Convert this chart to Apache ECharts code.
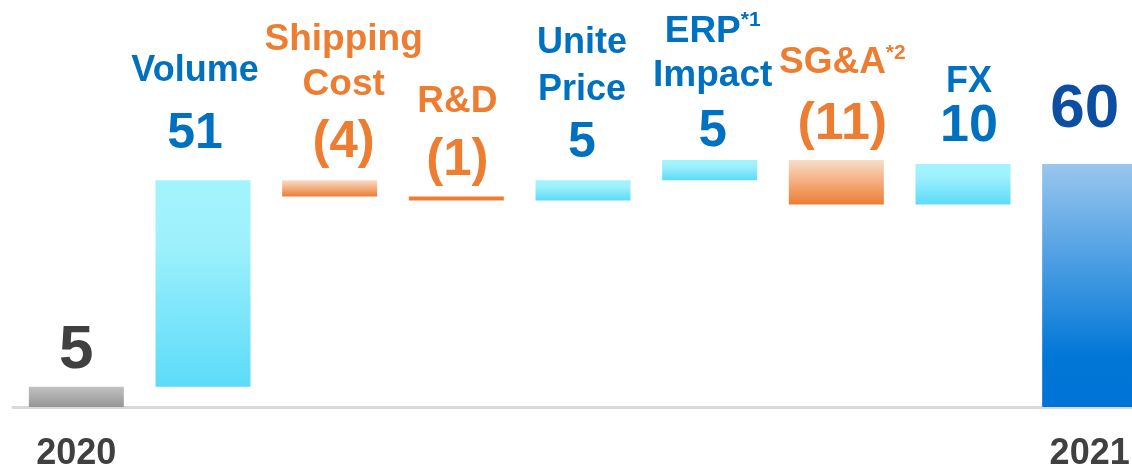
<!DOCTYPE html>
<html>
<head>
<meta charset="utf-8">
<script src="https://cdn.jsdelivr.net/npm/echarts@6/dist/echarts.min.js"></script>
<style>
  html, body { margin: 0; padding: 0; background: #fff; }
  #chart { width: 1132px; height: 469px; }
</style>
</head>
<body>
<div id="chart"></div>
<script>
  // 数据
  var categories = ['2020', 'Volume', 'Shipping Cost', 'R&D', 'Unite Price', 'ERP Impact', 'SG&A', 'FX', '2021'];
  var axisLabels = ['2020', '', '', '', '', '', '', '', '2021'];
  var baseValues = [0, 5, 52, 51, 51, 56, 50, 50, 0];
  var changeValues = [5, 51, 4, 1, 5, 5, 11, 10, 60];
  var valueTexts = ['5', '51', '(4)', '(1)', '5', '5', '(11)', '10', '60'];
  var nameTexts = ['', '{n|Volume}', '{n|Shipping}\n{n|Cost}', '{n|R&D}', '{n|Unite}\n{n|Price}',
    '{n|ERP}{s|*1}\n{n|Impact}', '{n|SG&A}{s|*2}', '{n|FX}', ''];
  var kinds = ['start', 'up', 'down', 'down', 'up', 'up', 'down', 'up', 'end'];

  var BLUE = '#0070C0', ORANGE = '#ED7D31';

  // 每个柱子的标签样式: 名称行高 a, 数值行高 b, 距离 d, 水平偏移 dx, 字号
  var labelStyle = [
    {a: 0, b: 62, d: 5, dx: 0, nf: 33, vf: 62, c: '#404040'},
    {a: 70, b: 56, d: 18, dx: -8, nf: 36, vf: 50, c: BLUE},
    {a: 45, b: 71, d: 2, dx: 14, nf: 37, vf: 51, c: ORANGE},
    {a: 63, b: 56, d: 7, dx: 1, nf: 37, vf: 51, c: ORANGE},
    {a: 47, b: 61, d: 6, dx: -1, nf: 36, vf: 50, c: BLUE},
    {a: 44, b: 67, d: -5, dx: 3, nf: 37, vf: 51, c: BLUE},
    {a: 40, b: 83, d: -6, dx: 6, nf: 37, vf: 52, c: ORANGE},
    {a: 40, b: 50, d: 12, dx: 6, nf: 36, vf: 52, c: BLUE},
    {a: 0, b: 62, d: 23, dx: -5, nf: 33, vf: 62, c: '#0B4EA2'}
  ];

  function grad(stops) {
    return new echarts.graphic.LinearGradient(0, 0, 0, 1, stops);
  }
  var fills = {
    start: grad([{offset: 0, color: '#C2C2C2'}, {offset: 1, color: '#969696'}]),
    up: grad([{offset: 0, color: '#A3F3FC'}, {offset: 0.3, color: '#9EF1FC'}, {offset: 1, color: '#5CDBF9'}]),
    down: grad([{offset: 0, color: '#F9DDC9'}, {offset: 1, color: '#ED7D31'}]),
    end: grad([{offset: 0, color: '#99C6EE'}, {offset: 0.8, color: '#0076D7'}, {offset: 1, color: '#0074D6'}])
  };

  var barData = changeValues.map(function (v, i) {
    var st = labelStyle[i];
    var text = nameTexts[i] ? nameTexts[i] + '\n{v|' + valueTexts[i] + '}' : '{v|' + valueTexts[i] + '}';
    var fill = kinds[i] === 'down' && v === 1 ? ORANGE : fills[kinds[i]];
    return {
      value: v,
      itemStyle: {color: fill},
      label: {
        show: true,
        position: 'top',
        distance: st.d,
        offset: [st.dx, 0],
        formatter: text,
        rich: {
          n: {fontSize: st.nf, fontWeight: 'bold', color: st.c, lineHeight: st.a, fontFamily: 'Liberation Sans'},
          s: {fontSize: 21, fontWeight: 'bold', color: st.c, lineHeight: 30, verticalAlign: 'top', fontFamily: 'Liberation Sans'},
          v: {fontSize: st.vf, fontWeight: 'bold', color: st.c, lineHeight: st.b, fontFamily: 'Liberation Sans'}
        }
      }
    };
  });

  var myChart = echarts.init(document.getElementById('chart'));
  myChart.setOption({
    animation: false,
    backgroundColor: '#ffffff',
    grid: {left: 13, width: 1140, top: 2, bottom: 62, outerBoundsMode: 'none', containLabel: false},
    xAxis: {
      type: 'category',
      data: categories,
      axisLine: {lineStyle: {color: '#D9D9D9', width: 3}},
      axisTick: {show: false},
      axisLabel: {
        interval: 0,
        margin: 29,
        fontSize: 36,
        fontWeight: 'bold',
        color: '#404040',
        fontFamily: 'Liberation Sans',
        formatter: function (val, idx) { return axisLabels[idx]; }
      }
    },
    yAxis: {
      type: 'value',
      min: 0,
      max: 100,
      show: false
    },
    series: [
      {
        name: 'base',
        type: 'bar',
        stack: 'wf',
        barWidth: 95,
        itemStyle: {color: 'transparent'},
        data: baseValues
      },
      {
        name: 'change',
        type: 'bar',
        stack: 'wf',
        barWidth: 95,
        data: barData
      }
    ]
  });
</script>
</body>
</html>
